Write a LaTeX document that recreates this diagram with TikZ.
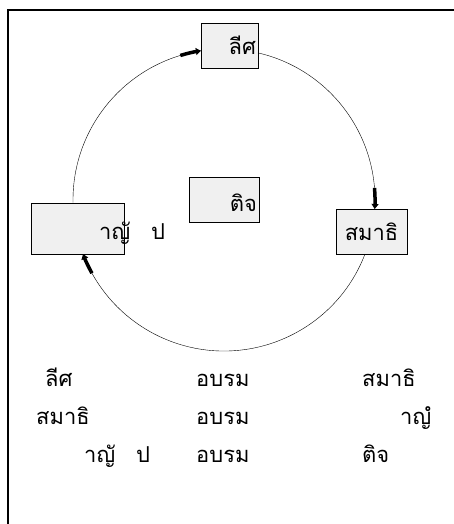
\documentclass[tikz,border=0pt]{standalone}
\usepackage{fontspec}
\newfontfamily\thaifont[Script=Thai]{Loma}
\usetikzlibrary{arrows.meta,calc}

\begin{document}
\begin{tikzpicture}[x=1bp,y=-1bp,
  thai/.style={font=\thaifont\fontsize{22}{26}\selectfont},
  box/.style={thai,draw,fill=black!6,inner xsep=2bp,inner ysep=0pt,align=right},
  word/.style={thai,inner sep=0pt,anchor=base west},
  tipbar/.style={line width=3.5bp,-{Triangle[length=5bp,width=7bp]}}]
\useasboundingbox (0,0) rectangle (454,524);
\draw[line width=1.2bp] (8,524)--(8,10)--(454,10);
\coordinate (ctr) at (224,200);
% boxes round the circle
\node[box,text width=53bp,minimum height=45bp] (lis) at (229.5,45.5) {ลีศ};
\node[box,text width=66bp,minimum height=45bp,text height=24bp,text depth=0bp] (jit) at (224,199.5) {ติจ};
\node[box,text width=67bp,minimum height=45bp,align=center] (samathi) at (371.5,231.5) {สมาธิ};
\node[box,minimum width=93bp,minimum height=51bp] (panna) at (77.5,228.5) {};
\node[thai,inner sep=0pt,anchor=base west] (pannatxt) at (99,239) {าญั\hspace{21bp}ป};
% circle pieces
\coordinate (lisout) at ($(ctr)+(-77:151)$);
\coordinate (samin) at ($(ctr)+(3.4:151)$);
\coordinate (samout) at ($(ctr)+(21:151)$);
\coordinate (pannain) at ($(ctr)+(159:151)$);
\coordinate (pannaout) at ($(ctr)+(-181:151)$);
\coordinate (lisin) at ($(ctr)+(-98.8:151)$);
\draw (lisout) arc[start angle=-77,end angle=3.4,radius=151];
\draw (samout) arc[start angle=21,end angle=159,radius=151];
\draw (pannaout) arc[start angle=-181,end angle=-98.8,radius=151];
\draw[tipbar] ($(ctr)+(-4.6:151)$) arc[start angle=-4.6,end angle=3.4,radius=151];
\draw[tipbar] ($(ctr)+(151:151)$) arc[start angle=151,end angle=159,radius=151];
\draw[tipbar] ($(ctr)+(-106.8:151)$) arc[start angle=-106.8,end angle=-98.8,radius=151];
% table under the circle
\node[word] (r1a) at (45,386) {ลีศ};
\node[word] (r1b) at (196,386) {อบรม};
\node[word] (r1c) at (362,386) {สมาธิ};
\node[word] (r2a) at (36,424) {สมาธิ};
\node[word] (r2b) at (196,424) {อบรม};
\node[word] (r2c) at (400,424) {าญํ};
\node[word] (r3a) at (84,462) {าญั\hspace{21bp}ป};
\node[word] (r3b) at (196,462) {อบรม};
\node[word] (r3c) at (362,462) {ติจ};
\end{tikzpicture}
\end{document}
